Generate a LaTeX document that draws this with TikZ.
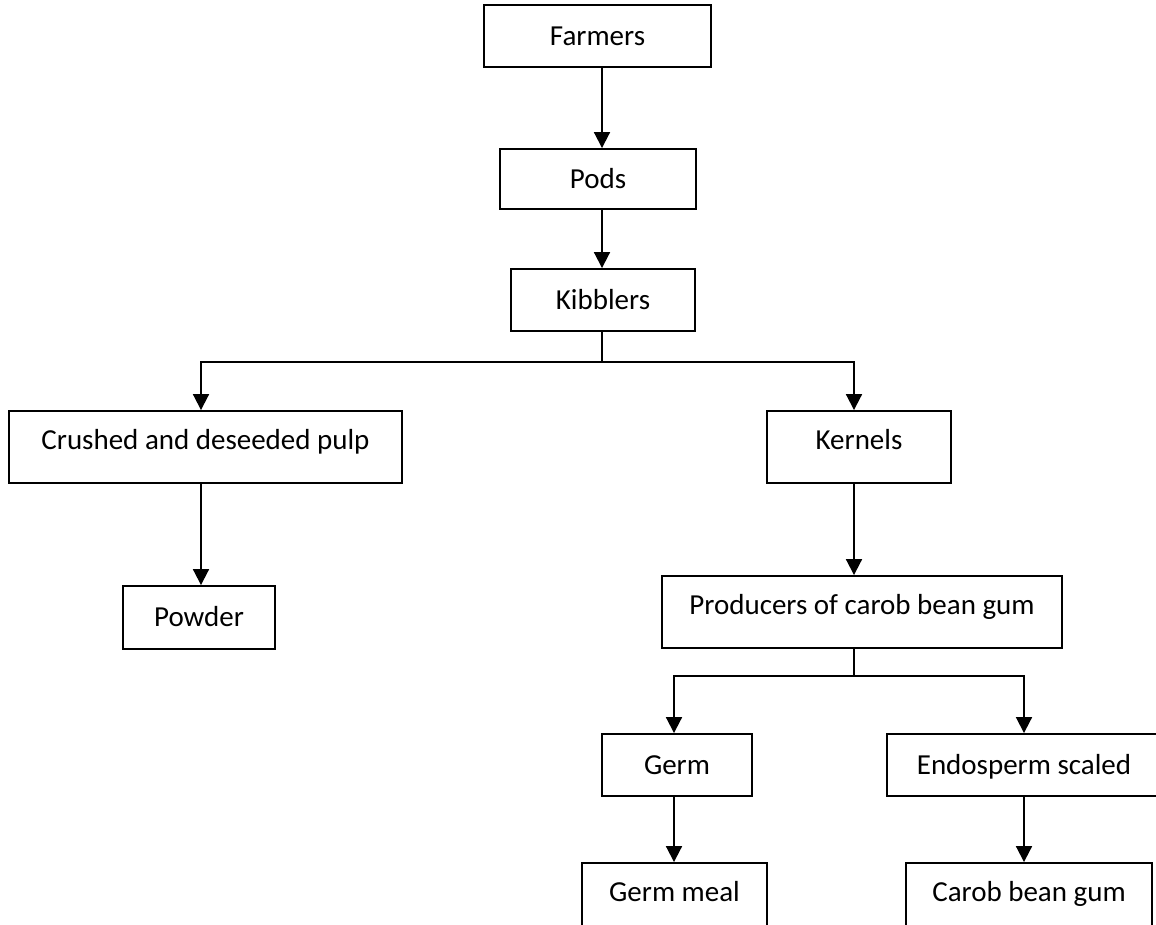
\documentclass[tikz,border=0pt]{standalone}
\usepackage{fontspec}
\setmainfont{Carlito}
\usetikzlibrary{arrows.meta}
\begin{document}
\begin{tikzpicture}[x=0.02cm,y=-0.02cm,
  box/.style={draw=black,line width=1.1pt,inner sep=0pt,font=\fontsize{16.5pt}{19pt}\selectfont,
              text height=10.6pt,text depth=0pt,align=center},
  tall/.style={box,text depth=8pt},
  arr/.style={line width=1.1pt,-{Triangle[width=9pt,length=9pt]}},
  ln/.style={line width=1.1pt}]
\useasboundingbox (0,0) rectangle (1156,924);
\node[box,minimum width=4.54cm,minimum height=1.24cm] (farmers) at (597.5,36) {Farmers};
\node[box,minimum width=3.92cm,minimum height=1.2cm] (pods) at (598,179) {Pods};
\node[box,minimum width=3.68cm,minimum height=1.24cm] (kibblers) at (603,300) {Kibblers};
\node[tall,minimum width=7.86cm,minimum height=1.44cm] (crushed) at (205.5,447) {Crushed and deseeded pulp};
\node[tall,minimum width=3.68cm,minimum height=1.44cm] (kernels) at (859,447) {Kernels};
\node[box,minimum width=3.04cm,minimum height=1.26cm] (powder) at (199,617.5) {Powder};
\node[tall,minimum width=8.0cm,minimum height=1.44cm] (producers) at (862,612) {Producers of carob bean gum};
\node[box,minimum width=3.0cm,minimum height=1.24cm] (germ) at (677,765) {Germ};
\node[box,minimum width=5.48cm,minimum height=1.24cm] (endo) at (1024,765) {Endosperm scaled};
\node[tall,minimum width=3.7cm,minimum height=1.44cm] (germmeal) at (674.5,899) {Germ meal};
\node[tall,minimum width=4.92cm,minimum height=1.44cm] (carob) at (1029,899) {Carob bean gum};
\coordinate (xa) at (602,0);
\coordinate (xb) at (201,0);
\coordinate (xc) at (854,0);
\coordinate (xd) at (674,0);
\coordinate (xe) at (1024,0);
\coordinate (j1) at (602,362);
\coordinate (j2) at (854,676);
\draw[arr] (farmers.south -| xa) -- (pods.north -| xa);
\draw[arr] (pods.south -| xa) -- (kibblers.north -| xa);
\draw[ln] (kibblers.south -| xa) -- (j1);
\draw[arr] (j1) -| (crushed.north -| xb);
\draw[arr] (j1) -| (kernels.north -| xc);
\draw[arr] (crushed.south -| xb) -- (powder.north -| xb);
\draw[arr] (kernels.south -| xc) -- (producers.north -| xc);
\draw[ln] (producers.south -| xc) -- (j2);
\draw[arr] (j2) -| (germ.north -| xd);
\draw[arr] (j2) -| (endo.north -| xe);
\draw[arr] (germ.south -| xd) -- (germmeal.north -| xd);
\draw[arr] (endo.south -| xe) -- (carob.north -| xe);
\end{tikzpicture}
\end{document}
